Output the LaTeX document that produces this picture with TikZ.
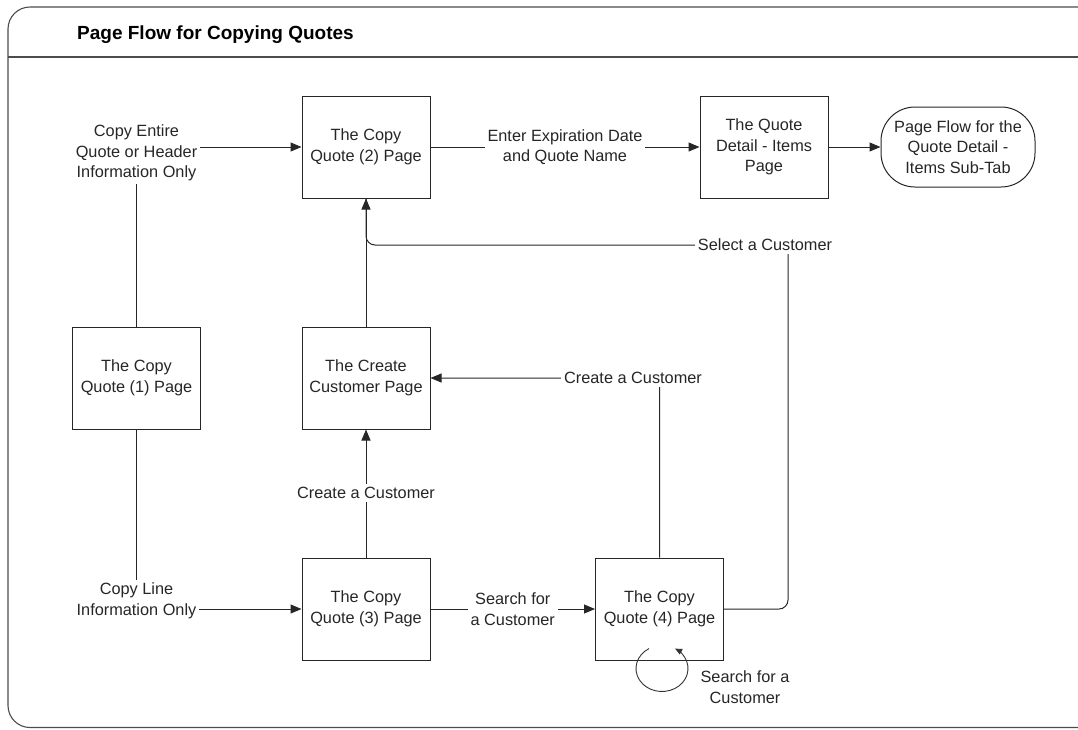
\documentclass[tikz,border=0pt]{standalone}
\usepackage{fontspec}
\setmainfont{Liberation Sans}
\usetikzlibrary{arrows.meta,calc}
\newcommand\flowtext{\fontsize{16.3}{20.5}\selectfont}
\newcommand\flowtitle{\fontsize{19}{22}\selectfont\bfseries}
\begin{document}
\begin{tikzpicture}[x=1pt,y=-1pt,
  ink/.style={draw=black!85, line width=1pt},
  frame/.style={draw=black!70, line width=1.1pt},
  page/.style={ink, rectangle, minimum width=128pt, minimum height=102pt,
    inner sep=0pt, align=center, font=\flowtext, text=black!85},
  flowlink/.style={draw=black!85, line width=1pt, rounded corners=9pt},
  conn/.style={flowlink, -{Triangle[length=11pt,width=9pt]}},
  plain/.style={align=center, font=\flowtext, text=black!85, inner sep=3pt},
  tag/.style={plain, fill=white},
]
\useasboundingbox (0,0) rectangle (1078,729);
\clip (0,0) rectangle (1078,729);

% outer frame and title bar
\draw[frame, rounded corners=22pt] (1100,7) -- (8,7) -- (8,727.5) -- (1100,727.5);
\draw[frame] (8,57) -- (1100,57);
\node[font=\flowtitle, anchor=west, inner sep=0pt] (title) at (77,35)
  {Page Flow for Copying Quotes};

% pages
\node[page] (cq2) at (366,147) {The Copy\\Quote (2) Page};
\node[page] (qd)  at (764,147) {The Quote\\Detail - Items\\Page};
\node[ink, rounded corners=34pt, minimum width=154pt, minimum height=80pt,
  inner sep=0pt, align=center, font=\flowtext, text=black!85] (sub) at (958,147)
  {Page Flow for the\\Quote Detail -\\Items Sub-Tab};
\node[page] (cq1) at (136.5,378) {The Copy\\Quote (1) Page};
\node[page] (cc)  at (366,378) {The Create\\Customer Page};
\node[page] (cq3) at (366,609) {The Copy\\Quote (3) Page};
\node[page] (cq4) at (659.5,609) {The Copy\\Quote (4) Page};

% choices leaving the first page
\node[plain] (optAll) at (136.5,153) {Copy Entire\\Quote or Header\\Information Only};
\node[plain] (optLine) at (136.5,601) {Copy Line\\Information Only};
\draw[flowlink] (cq1.north) -- (cq1.north |- optAll.south);
\draw[flowlink] (cq1.south) -- (cq1.south |- optLine.north);
\draw[conn] (optAll.east |- cq2.west) -- (cq2.west);
\draw[conn] (optLine.east |- cq3.west) -- (cq3.west);

% top row
\draw[conn] (cq2.east) -- (qd.west);
\node[tag] (tExp) at ($(cq2.east)!0.5!(qd.west)$) {Enter Expiration Date\\and Quote Name};
\draw[conn] (qd.east) -- (sub.west);

% customer search and creation
\draw[flowlink] (cq4.east) -- (788,609) -- (788,245) -- (366,245) -- (cq2.south);
\draw[conn] (cc.north) -- (cq2.south);
\node[tag] (tSel) at (765,245) {Select a Customer};

\draw[conn] (cq4.north) -- (cq4.north |- cc.east) -- (cc.east);
\node[tag] (tNew) at (633,378) {Create a Customer};

\draw[conn] (cq3.north) -- (cc.south);
\node[tag] (tNew2) at (366,493) {Create a Customer};

\draw[conn] (cq3.east) -- (cq4.west);
\node[tag] (tSearch) at ($(cq3.east)!0.5!(cq4.west)$) {Search for\\a Customer};

% repeated search on the fourth page
\coordinate (loopc) at ($(cq4.south)+(2.5,8)$);
\draw[draw=black!80, line width=0.9pt, -{Triangle[length=7pt,width=6pt]}]
  ($(loopc)+(240:26 and 23)$) arc[start angle=240, end angle=-60, x radius=26, y radius=23];
\node[plain] (tLoop) at (745,687) {Search for a\\Customer};
\end{tikzpicture}
\end{document}
